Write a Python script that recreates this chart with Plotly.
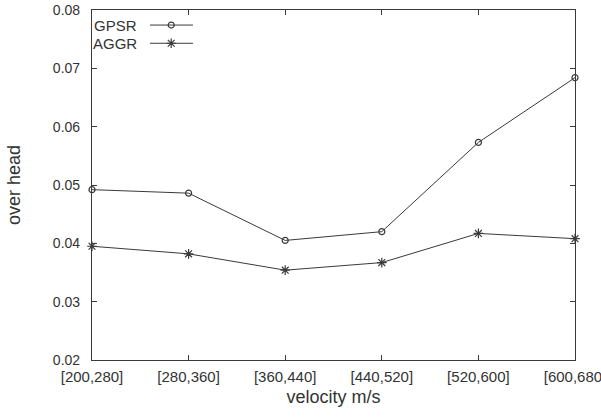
import plotly.graph_objects as go

categories = ["[200,280]", "[280,360]", "[360,440]", "[440,520]", "[520,600]", "[600,680]"]
gpsr = [0.0492, 0.0486, 0.0405, 0.0420, 0.0573, 0.0684]
aggr = [0.0395, 0.0382, 0.0354, 0.0367, 0.0417, 0.0408]
y_ticks = [0.02, 0.03, 0.04, 0.05, 0.06, 0.07, 0.08]

LINE = "#3a3a3a"
TEXT = "#333333"
FONT = "Liberation Sans"

fig = go.Figure()
fig.add_trace(go.Scatter(x=categories, y=gpsr, mode="lines+markers", name="GPSR",
                         line=dict(color=LINE, width=1),
                         marker=dict(symbol="circle-open", size=6, color=LINE, line=dict(width=1.2, color=LINE)),
                         showlegend=False, cliponaxis=False))
fig.add_trace(go.Scatter(x=categories, y=aggr, mode="lines+markers", name="AGGR",
                         line=dict(color=LINE, width=1),
                         marker=dict(symbol="asterisk-open", size=8, color=LINE, line=dict(width=1.2, color=LINE)),
                         showlegend=False, cliponaxis=False))

# manual legend (text left, sample right) on a hidden overlay axis
leg_names = ["GPSR", "AGGR"]
leg_symbols = ["circle-open", "asterisk-open"]
leg_sizes = [6, 8]
leg_y = [0.957, 0.905]
for nm, sym, sz, yy in zip(leg_names, leg_symbols, leg_sizes, leg_y):
    fig.add_trace(go.Scatter(x=[0.12, 0.209], y=[yy, yy], mode="lines", xaxis="x2", yaxis="y2",
                             line=dict(color=LINE, width=1), showlegend=False, hoverinfo="skip"))
    fig.add_trace(go.Scatter(x=[0.164], y=[yy], mode="markers", xaxis="x2", yaxis="y2",
                             marker=dict(symbol=sym, size=sz, color=LINE, line=dict(width=1.2, color=LINE)),
                             showlegend=False, hoverinfo="skip"))
    fig.add_annotation(x=0.097, y=yy, xref="x2", yref="y2", text=nm, showarrow=False,
                       xanchor="right", yanchor="middle", font=dict(family=FONT, size=15, color=TEXT))

fig.update_layout(
    width=601, height=418,
    margin=dict(l=92, r=26, t=10, b=58),
    paper_bgcolor="white", plot_bgcolor="white",
    font=dict(family=FONT, size=15, color=TEXT),
    xaxis=dict(type="category", range=[0, 5], showline=True, linecolor=LINE, linewidth=1.2,
               mirror="allticks", ticks="inside", ticklen=5, tickcolor=LINE, showgrid=False,
               zeroline=False, automargin=False, ticklabelstandoff=3, ticklabeloverflow="allow",
               title=dict(text="velocity m/s", standoff=6), tickfont=dict(size=15)),
    yaxis=dict(range=[0.02, 0.08], tickvals=y_ticks, tickformat=".2f", showline=True, linecolor=LINE,
               linewidth=1.2, mirror="allticks", ticks="inside", ticklen=5, tickcolor=LINE,
               showgrid=False, zeroline=False, automargin=False, ticklabelstandoff=8,
               ticklabeloverflow="allow",
               title=dict(text="over head", standoff=27), tickfont=dict(size=14)),
    xaxis2=dict(range=[0, 1], overlaying="x", visible=False, fixedrange=True),
    yaxis2=dict(range=[0, 1], overlaying="y", visible=False, fixedrange=True),
)

fig.write_html("out.html", config={"displayModeBar": False},
               post_script="document.body.style.margin='0';")
